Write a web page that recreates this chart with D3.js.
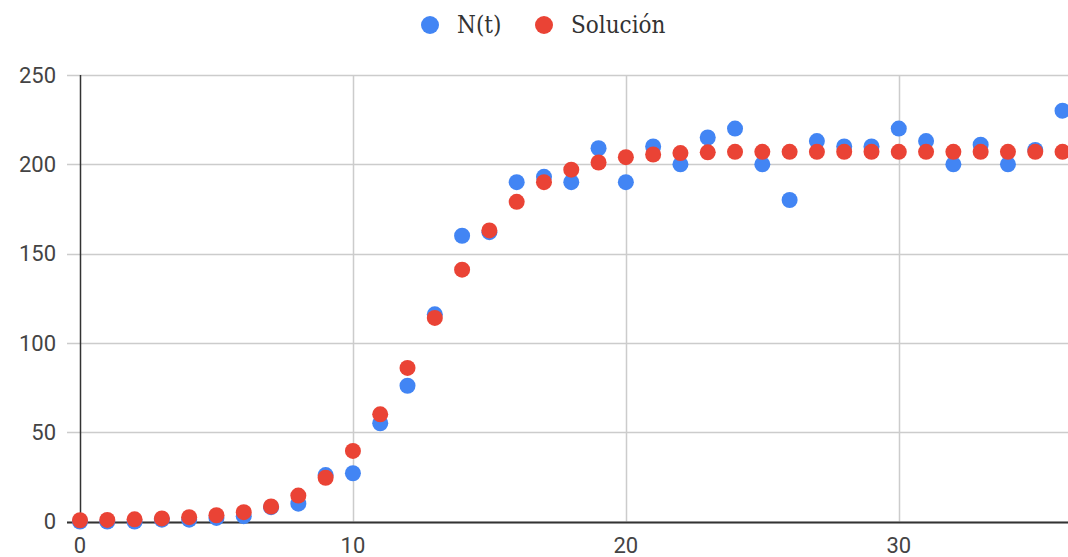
<!DOCTYPE html>
<html>
<head>
<meta charset="utf-8">
<script src="https://cdn.jsdelivr.net/npm/d3@7"></script>
<style>
  body { margin: 0; background: #fff; }
  svg { display: block; }
</style>
</head>
<body>
<script>
const width = 1068;
const height = 557;

// datos
const tValues = d3.range(0, 37);
const nValues = [0, 0, 0, 1, 1, 2, 3, 8, 10, 26, 27, 55, 76, 116, 160, 162, 190, 193, 190, 209,
                 190, 210, 200, 215, 220, 200, 180, 213, 210, 210, 220, 213, 200, 211, 200, 208, 230];
const solValues = [0.7, 0.9, 1.2, 1.7, 2.4, 3.5, 5.2, 8.4, 14.5, 24.5, 39.5, 60, 86, 114, 141, 163, 179, 190, 197, 201,
                   204, 205.5, 206.3, 206.7, 207, 207, 207, 207, 207, 207, 207, 207, 207, 207, 207, 207, 207];
const yTicks = [0, 50, 100, 150, 200, 250];
const xTicks = [0, 10, 20, 30];
const seriesNames = ["N(t)", "Solución"];
const colors = ["#4285f4", "#ea4335"];

const marge = {left: 80, right: 0, top: 75, bottom: 35};

const xScale = d3.scaleLinear().domain([0, 36.2]).range([marge.left, width - marge.right]);
const yScale = d3.scaleLinear().domain([0, 250]).range([height - marge.bottom - 0.5, marge.top]);

const svg = d3.select("body").append("svg")
    .attr("width", width)
    .attr("height", height);

// lineas de cuadricula horizontales
svg.append("g")
    .selectAll("line")
    .data(yTicks)
    .enter()
    .append("line")
      .attr("x1", marge.left - 13)
      .attr("x2", width)
      .attr("y1", d => Math.round(yScale(d)) + 0.5)
      .attr("y2", d => Math.round(yScale(d)) + 0.5)
      .attr("stroke", "#cccccc")
      .attr("stroke-width", 1.5);

// lineas verticales
svg.append("g")
    .selectAll("line")
    .data(xTicks.filter(d => d > 0))
    .enter()
    .append("line")
      .attr("x1", d => Math.round(xScale(d)) + 0.5)
      .attr("x2", d => Math.round(xScale(d)) + 0.5)
      .attr("y1", yScale(250))
      .attr("y2", yScale(0))
      .attr("stroke", "#cccccc")
      .attr("stroke-width", 1.5);

// ejes
svg.append("line")
    .attr("x1", marge.left - 13).attr("x2", width)
    .attr("y1", Math.round(yScale(0)) + 0.5).attr("y2", Math.round(yScale(0)) + 0.5)
    .attr("stroke", "#333333").attr("stroke-width", 2);
svg.append("line")
    .attr("x1", Math.round(xScale(0)) + 0.5).attr("x2", Math.round(xScale(0)) + 0.5)
    .attr("y1", yScale(250)).attr("y2", yScale(0))
    .attr("stroke", "#333333").attr("stroke-width", 1.5);

// etiquetas
svg.append("g")
    .selectAll("text")
    .data(yTicks)
    .enter()
    .append("text")
      .attr("x", 56)
      .attr("y", d => yScale(d))
      .attr("dy", "0.35em")
      .attr("text-anchor", "end")
      .style("font-family", "Roboto, sans-serif")
      .style("font-size", "22px")
      .style("fill", "#444444")
      .text(d => d);

svg.append("g")
    .selectAll("text")
    .data(xTicks)
    .enter()
    .append("text")
      .attr("x", d => xScale(d))
      .attr("y", 553)
      .attr("text-anchor", "middle")
      .style("font-family", "Roboto, sans-serif")
      .style("font-size", "22px")
      .style("fill", "#444444")
      .text(d => d);

// puntos
const series = [nValues, solValues];
series.forEach(function(vals, i){
  svg.append("g")
    .selectAll("circle")
    .data(tValues)
    .enter()
    .append("circle")
      .attr("cx", d => xScale(d))
      .attr("cy", d => yScale(vals[d]))
      .attr("r", 8)
      .attr("fill", colors[i]);
});

// leyenda
const legendX = [430, 544];
const legend = svg.append("g");
legend.selectAll("circle")
    .data(seriesNames)
    .enter()
    .append("circle")
      .attr("cx", (d, i) => legendX[i])
      .attr("cy", 25)
      .attr("r", 9)
      .attr("fill", (d, i) => colors[i]);
legend.selectAll("text")
    .data(seriesNames)
    .enter()
    .append("text")
      .attr("x", (d, i) => legendX[i] + 27)
      .attr("y", 25)
      .attr("dy", "0.35em")
      .style("font-family", "'DejaVu Serif Condensed', 'DejaVu Serif', serif")
      .style("font-size", "24px")
      .style("fill", "#333333")
      .text(d => d);
</script>
</body>
</html>
